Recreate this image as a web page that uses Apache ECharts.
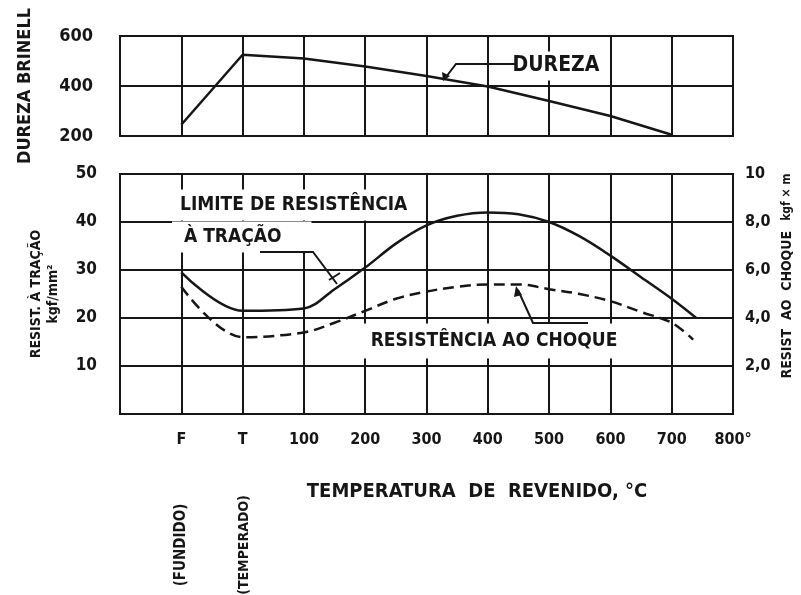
<!DOCTYPE html>
<html lang="pt">
<head>
<meta charset="utf-8">
<title>Dureza e resistência x temperatura de revenido</title>
<script src="https://cdn.jsdelivr.net/npm/echarts@6/dist/echarts.min.js"></script>
<style>
html, body { margin: 0; background: #fff; }
#chart { width: 801px; height: 595px; }
</style>
</head>
<body>
<div id="chart"></div>
<script>
// eixo x: F (fundido) = -100, T (temperado) = 0, depois graus C
var xTicks = ['', 'F', 'T', '100', '200', '300', '400', '500', '600', '700', '800°'];
var durezaTicks = ['200', '', '400', '', '600'];
var tracaoTicks = ['', '10', '20', '30', '40', '50'];
var choqueTicks = ['', '2,0', '4,0', '6,0', '8,0', '10'];

var durezaTemp = [-100, 0, 100, 200, 300, 400, 500, 600, 700];
var dureza = [245, 525, 510, 478, 440, 398, 340, 280, 205];

var tracaoTemp = [-100, 0, 100, 150, 200, 250, 300, 350, 400, 450, 500, 550, 600, 650, 700, 740];
var tracao = [29.5, 21.5, 22, 26, 30.5, 35.5, 39.3, 41.3, 42, 41.6, 40, 37, 33, 28.5, 24, 20];

var choqueTemp = [-100, 0, 100, 150, 200, 250, 300, 350, 400, 450, 500, 550, 600, 650, 700, 735];
var choque = [5.3, 3.2, 3.4, 3.8, 4.3, 4.8, 5.1, 5.3, 5.4, 5.4, 5.2, 5.0, 4.7, 4.25, 3.8, 3.1];

function pairs(xs, ys) {
	return xs.map(function (x, i) { return [x, ys[i]]; });
}

var ink = '#161616';
var narrow = "'Liberation Sans Narrow', 'DejaVu Sans Condensed', sans-serif";
var gridLine = { show: true, lineStyle: { color: ink, width: 2 } };

function xAxisFor(gi, showLabels) {
	return {
		type: 'value', gridIndex: gi, min: -200, max: 800, interval: 100,
		axisLine: { show: false }, axisTick: { show: false },
		splitLine: gridLine,
		axisLabel: {
			show: showLabels, margin: 18, color: ink,
			fontFamily: narrow, fontWeight: 'bold', fontSize: 16,
			formatter: function (v) { return xTicks[Math.round((v + 200) / 100)]; }
		}
	};
}

var chart = echarts.init(document.getElementById('chart'));
chart.setOption({
	backgroundColor: '#fff',
	animation: false,
	grid: [
		{ left: 120, top: 36, width: 613, height: 100, show: true, borderColor: ink, borderWidth: 2, backgroundColor: 'transparent' },
		{ left: 120, top: 174, width: 613, height: 240, show: true, borderColor: ink, borderWidth: 2, backgroundColor: 'transparent' }
	],
	xAxis: [xAxisFor(0, false), xAxisFor(1, true)],
	yAxis: [
		{
			type: 'value', gridIndex: 0, min: 200, max: 600, interval: 200,
			axisLine: { show: false }, axisTick: { show: false }, splitLine: gridLine,
			axisLabel: {
				margin: 27, color: ink, fontFamily: narrow, fontWeight: 'bold', fontSize: 18,
				padding: [12, 0, 0, 0],
				formatter: function (v) { return durezaTicks[Math.round((v - 200) / 100)]; }
			},
			name: 'DUREZA BRINELL', nameLocation: 'middle', nameRotate: 90, nameGap: 86,
			nameTextStyle: { color: ink, fontFamily: narrow, fontWeight: 'bold', fontSize: 18 }
		},
		{
			type: 'value', gridIndex: 1, min: 0, max: 50, interval: 10,
			axisLine: { show: false }, axisTick: { show: false }, splitLine: gridLine,
			axisLabel: {
				margin: 23, color: ink, fontFamily: narrow, fontWeight: 'bold', fontSize: 17,
				padding: [6, 0, 0, 0],
				formatter: function (v) { return tracaoTicks[Math.round(v / 10)]; }
			},
			name: 'RESIST. À TRAÇÃO\nkgf/mm²', nameLocation: 'middle', nameRotate: 90, nameGap: 58,
			nameTextStyle: { color: ink, fontFamily: narrow, fontWeight: 'bold', fontSize: 14, lineHeight: 17 }
		},
		{
			type: 'value', gridIndex: 1, position: 'right', min: 0, max: 10, interval: 2,
			axisLine: { show: false }, axisTick: { show: false }, splitLine: { show: false },
			axisLabel: {
				margin: 12, color: ink, fontFamily: narrow, fontWeight: 'bold', fontSize: 16,
				formatter: function (v) { return choqueTicks[Math.round(v / 2)]; }
			}
		}
	],
	graphic: [
		{ type: 'text', z: 1, x: 556, y: 66, style: { text: 'DUREZA', font: "bold 21px " + narrow, fill: ink, align: 'center', verticalAlign: 'middle', backgroundColor: '#fff', padding: [4, 4] } },
		{ type: 'polyline', z: 3, shape: { points: [[516, 64], [456, 64], [446, 77]] }, style: { stroke: ink, lineWidth: 2, fill: null } },
		{ type: 'polygon', z: 3, shape: { points: [[443, 81], [442, 72], [450, 76]] }, style: { fill: ink } },

		{ type: 'text', z: 1, x: 172, y: 205, style: { text: 'LIMITE DE RESISTÊNCIA', font: "bold 19px " + narrow, fill: ink, align: 'left', verticalAlign: 'middle', backgroundColor: '#fff', padding: [6, 6, 6, 8] } },
		{ type: 'text', z: 1, x: 172, y: 237, style: { text: 'À TRAÇÃO', font: "bold 19px " + narrow, fill: ink, align: 'left', verticalAlign: 'middle', backgroundColor: '#fff', padding: [4, 30, 8, 12] } },
		{ type: 'polyline', z: 3, shape: { points: [[260, 252], [313, 252], [337, 284]] }, style: { stroke: ink, lineWidth: 2, fill: null } },
		{ type: 'line', z: 3, shape: { x1: 329, y1: 280, x2: 340, y2: 273 }, style: { stroke: ink, lineWidth: 2 } },

		{ type: 'text', z: 1, x: 494, y: 341, style: { text: 'RESISTÊNCIA AO CHOQUE', font: "bold 19px " + narrow, fill: ink, align: 'center', verticalAlign: 'middle', backgroundColor: '#fff', padding: [8, 8, 8, 8] } },
		{ type: 'polyline', z: 3, shape: { points: [[588, 323], [533, 323], [518, 290]] }, style: { stroke: ink, lineWidth: 2, fill: null } },
		{ type: 'polygon', z: 3, shape: { points: [[516, 286], [514, 297], [522, 295]] }, style: { fill: ink } },

		{ type: 'text', x: 477, y: 492, style: { text: 'TEMPERATURA  DE  REVENIDO, °C', font: "bold 20px " + narrow, fill: ink, align: 'center', verticalAlign: 'middle' } },
		{ type: 'text', x: 181, y: 545, rotation: Math.PI / 2, style: { text: '(FUNDIDO)', font: "bold 15px " + narrow, fill: ink, align: 'center', verticalAlign: 'middle' } },
		{ type: 'text', x: 244, y: 545, rotation: Math.PI / 2, style: { text: '(TEMPERADO)', font: "bold 14px " + narrow, fill: ink, align: 'center', verticalAlign: 'middle' } },
		{ type: 'text', x: 787, y: 276, rotation: Math.PI / 2, style: {
			rich: {
				a: { font: "bold 14px " + narrow, fill: ink },
				b: { font: "bold 12px " + narrow, fill: ink }
			},
			text: '{a|RESIST  AO  CHOQUE}   {b|kgf × m}', align: 'center', verticalAlign: 'middle'
		} }
	],
	series: [
		{
			name: 'Dureza', type: 'line', xAxisIndex: 0, yAxisIndex: 0,
			data: pairs(durezaTemp, dureza), symbol: 'none',
			lineStyle: { color: ink, width: 2.5 }
		},
		{
			name: 'Limite de resistência à tração', type: 'line', xAxisIndex: 1, yAxisIndex: 1,
			data: pairs(tracaoTemp, tracao), symbol: 'none', smooth: 0.35,
			lineStyle: { color: ink, width: 2.5 }
		},
		{
			name: 'Resistência ao choque', type: 'line', xAxisIndex: 1, yAxisIndex: 2,
			data: pairs(choqueTemp, choque), symbol: 'none', smooth: 0.35,
			lineStyle: { color: ink, width: 2.5, type: [11, 6] }
		}
	]
});
</script>
</body>
</html>
